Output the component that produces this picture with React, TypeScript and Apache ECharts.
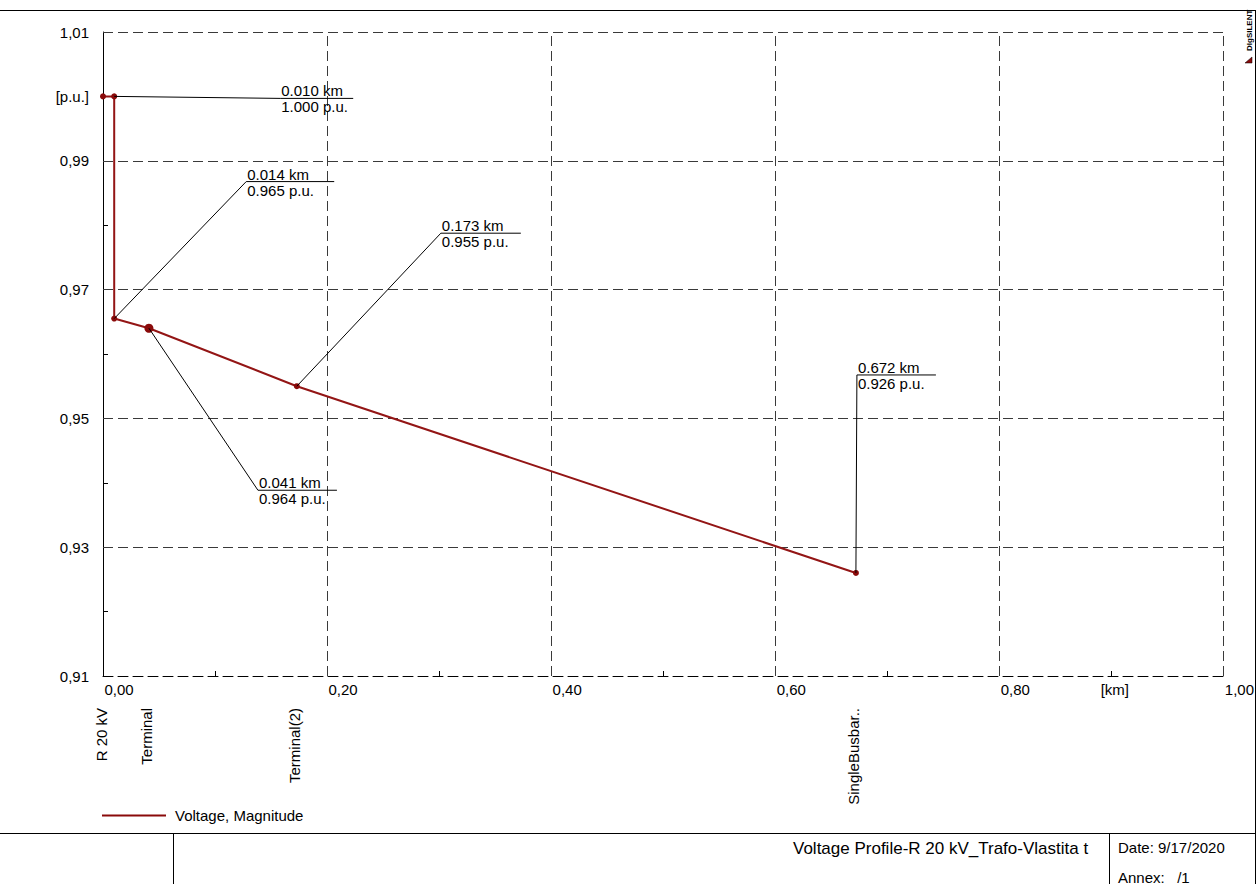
import React, { useEffect, useRef } from "react";
import * as echarts from "echarts";

// ---- data ----
const distanceKm = [0, 0.010, 0.010, 0.041, 0.173, 0.672];
const voltagePu = [1.000, 1.000, 0.9655, 0.964, 0.955, 0.926];
const markerSizes = [6, 6, 6, 9, 6, 6];

const annotationPoint = [1, 2, 4, 3, 5];
const annotationKm = ["0.010 km", "0.014 km", "0.173 km", "0.041 km", "0.672 km"];
const annotationPu = ["1.000 p.u.", "0.965 p.u.", "0.955 p.u.", "0.964 p.u.", "0.926 p.u."];
// layout (pixels): offset of the label anchor from the point, underline width
const annotationLayout = [
  [166, 2, 73],
  [132, -137, 88],
  [144, -153, 80],
  [109, 162, 79],
  [1, -198, 79],
];

const nodeNames = ["R 20 kV", "Terminal", "Terminal(2)", "SingleBusbar.."];
const nodeKm = [0, 0.041, 0.173, 0.672];

const xGridKm = [0.2, 0.4, 0.6, 0.8, 1.0];
const yGridPu = [0.93, 0.95, 0.97, 0.99, 1.01];

const seriesName = "Voltage, Magnitude";
const titleText = "Voltage Profile-R 20 kV_Trafo-Vlastita t";
const dateText = "Date: 9/17/2020";
const annexText = "Annex:   /1";

const FONT = "Liberation Sans, Arial, sans-serif";
const RED = "#931515";
const GRID = "#3a3a3a";

if (typeof document !== "undefined") {
  document.documentElement.style.overflow = "hidden";
  document.body.style.margin = "0";
  document.body.style.overflow = "hidden";
}

export default function App() {
  const ref = useRef<HTMLDivElement>(null);
  useEffect(() => {
    document.documentElement.style.overflow = "hidden";
    document.body.style.margin = "0";
    document.body.style.overflow = "hidden";
    const chart = echarts.init(ref.current!, undefined, { renderer: "svg", width: 1257, height: 884 });
    const option: any = {
      animation: false,
      backgroundColor: "#ffffff",
      textStyle: { fontFamily: FONT },
      grid: { left: 103, top: 32, width: 1125, height: 644, containLabel: false },
      legend: {
        left: 102,
        top: 808,
        padding: 0,
        itemWidth: 64,
        itemHeight: 2,
        data: [{ name: seriesName, icon: "rect" }],
        textStyle: { fontFamily: FONT, fontSize: 15, color: "#000", padding: [0, 0, 0, 4] },
      },
      xAxis: {
        type: "value",
        min: 0,
        max: 1,
        interval: 0.1,
        axisLine: { show: true, onZero: false, lineStyle: { color: "#000", width: 1, type: [10, 5] } },
        axisTick: { show: true, inside: true, length: 5, lineStyle: { color: "#000" } },
        splitLine: { show: false },
        axisLabel: {
          show: true,
          showMinLabel: true,
          showMaxLabel: true,
          hideOverlap: false,
          margin: 6,
          align: "center",
          color: "#000",
          fontFamily: FONT,
          fontSize: 15,
          formatter: (v: number) => {
            const k = Math.round(v * 10);
            if (k === 9) return "{u|[km]}";
            if (k % 2 === 0) return "{n|" + v.toFixed(2).replace(".", ",") + "}";
            return "";
          },
          rich: {
            n: { fontFamily: FONT, fontSize: 15, color: "#000", padding: [0, 0, 0, 32] },
            u: { fontFamily: FONT, fontSize: 15, color: "#000", padding: [0, 0, 0, 7] },
          },
        },
      },
      yAxis: {
        type: "value",
        min: 0.91,
        max: 1.01,
        interval: 0.01,
        axisLine: { show: true, onZero: false, lineStyle: { color: "#000", width: 1 } },
        axisTick: { show: true, inside: true, length: 5, lineStyle: { color: "#000" } },
        splitLine: { show: false },
        axisLabel: {
          show: true,
          showMinLabel: true,
          showMaxLabel: true,
          margin: 14,
          color: "#000",
          fontFamily: FONT,
          fontSize: 15,
          formatter: (v: number) => {
            const k = Math.round((v - 0.91) * 100);
            if (k === 9) return "[p.u.]";
            if (k % 2 === 0) return v.toFixed(2).replace(".", ",");
            return "";
          },
        },
      },
      series: [
        {
          name: seriesName,
          type: "line",
          color: RED,
          symbol: "circle",
          showSymbol: true,
          lineStyle: { color: RED, width: 2 },
          itemStyle: { color: "#8a0a0a" },
          data: distanceKm.map((x, i) => ({ value: [x, voltagePu[i]], symbolSize: markerSizes[i] })),
          z: 3,
          markLine: {
            silent: true,
            symbol: ["none", "none"],
            label: { show: false },
            lineStyle: { color: GRID, width: 1, type: [10, 5] },
            data: [
              ...xGridKm.map((v) => ({ xAxis: v })),
              ...yGridPu.map((v) => ({ yAxis: v })),
            ],
            z: 1,
          },
        },
        {
          name: "annotations",
          type: "custom",
          clip: false,
          silent: true,
          z: 5,
          data: annotationPoint.map((pi, j) => [distanceKm[pi], voltagePu[pi], j]),
          renderItem: (params: any, api: any) => {
            const p = api.coord([api.value(0), api.value(1)]);
            const j = api.value(2);
            const [dx, dy, w] = annotationLayout[j];
            const ex = p[0] + dx;
            const ey = p[1] + dy;
            return {
              type: "group",
              children: [
                { type: "line", shape: { x1: p[0], y1: p[1], x2: ex, y2: ey }, style: { stroke: "#000", lineWidth: 1 } },
                { type: "line", shape: { x1: ex, y1: ey, x2: ex + w, y2: ey }, style: { stroke: "#000", lineWidth: 1 } },
                {
                  type: "text",
                  x: ex + 1,
                  y: ey,
                  style: { text: annotationKm[j], fontFamily: FONT, fontSize: 15, fill: "#000", align: "left", verticalAlign: "bottom" },
                },
                {
                  type: "text",
                  x: ex + 1,
                  y: ey + 1,
                  style: { text: annotationPu[j], fontFamily: FONT, fontSize: 15, fill: "#000", align: "left", verticalAlign: "top" },
                },
              ],
            };
          },
        },
        {
          name: "nodes",
          type: "custom",
          clip: false,
          silent: true,
          z: 5,
          data: nodeKm.map((k, i) => [k, 0.91, i]),
          renderItem: (params: any, api: any) => {
            const p = api.coord([api.value(0), api.value(1)]);
            const i = api.value(2);
            return {
              type: "text",
              x: p[0] - 2,
              y: p[1] + 32,
              rotation: Math.PI / 2,
              style: { text: nodeNames[i], fontFamily: FONT, fontSize: 15, fill: "#000", align: "right", verticalAlign: "middle" },
            };
          },
        },
      ],
      graphic: [
        { type: "line", shape: { x1: 0, y1: 10.5, x2: 1255.5, y2: 10.5 }, style: { stroke: "#000", lineWidth: 1 } },
        { type: "line", shape: { x1: 1255.5, y1: 10, x2: 1255.5, y2: 884 }, style: { stroke: "#000", lineWidth: 1 }, z: 10 },
        { type: "line", shape: { x1: 0, y1: 833.5, x2: 1255.5, y2: 833.5 }, style: { stroke: "#000", lineWidth: 1 } },
        { type: "line", shape: { x1: 173.5, y1: 833, x2: 173.5, y2: 884 }, style: { stroke: "#000", lineWidth: 1 } },
        { type: "line", shape: { x1: 1109.5, y1: 833, x2: 1109.5, y2: 884 }, style: { stroke: "#000", lineWidth: 1 } },
        { type: "rect", shape: { x: 1256, y: 0, width: 2, height: 884 }, style: { fill: "#fff" }, z: 9 },
        {
          type: "text",
          x: 793,
          y: 848,
          style: { text: titleText, fontFamily: FONT, fontSize: 17, fill: "#000", align: "left", verticalAlign: "middle" },
        },
        {
          type: "text",
          x: 1118,
          y: 847,
          style: { text: dateText, fontFamily: FONT, fontSize: 15, fill: "#000", align: "left", verticalAlign: "middle" },
        },
        {
          type: "text",
          x: 1118,
          y: 877,
          style: { text: annexText, fontFamily: FONT, fontSize: 15, fill: "#000", align: "left", verticalAlign: "middle" },
        },
        {
          type: "text",
          x: 1249,
          y: 51,
          rotation: Math.PI / 2,
          style: { text: "DIgSILENT", fontFamily: FONT, fontSize: 8, fontWeight: "bold", fill: "#000", align: "left", verticalAlign: "middle" },
        },
        {
          type: "polygon",
          shape: { points: [[1245, 63], [1252, 57], [1252, 63]] },
          style: { fill: "#8a0a0a", stroke: "#000", lineWidth: 0.5 },
        },
      ],
    };
    chart.setOption(option);
    return () => chart.dispose();
  }, []);
  return <div ref={ref} style={{ width: 1257, height: 884, overflow: "hidden" }} />;
}
